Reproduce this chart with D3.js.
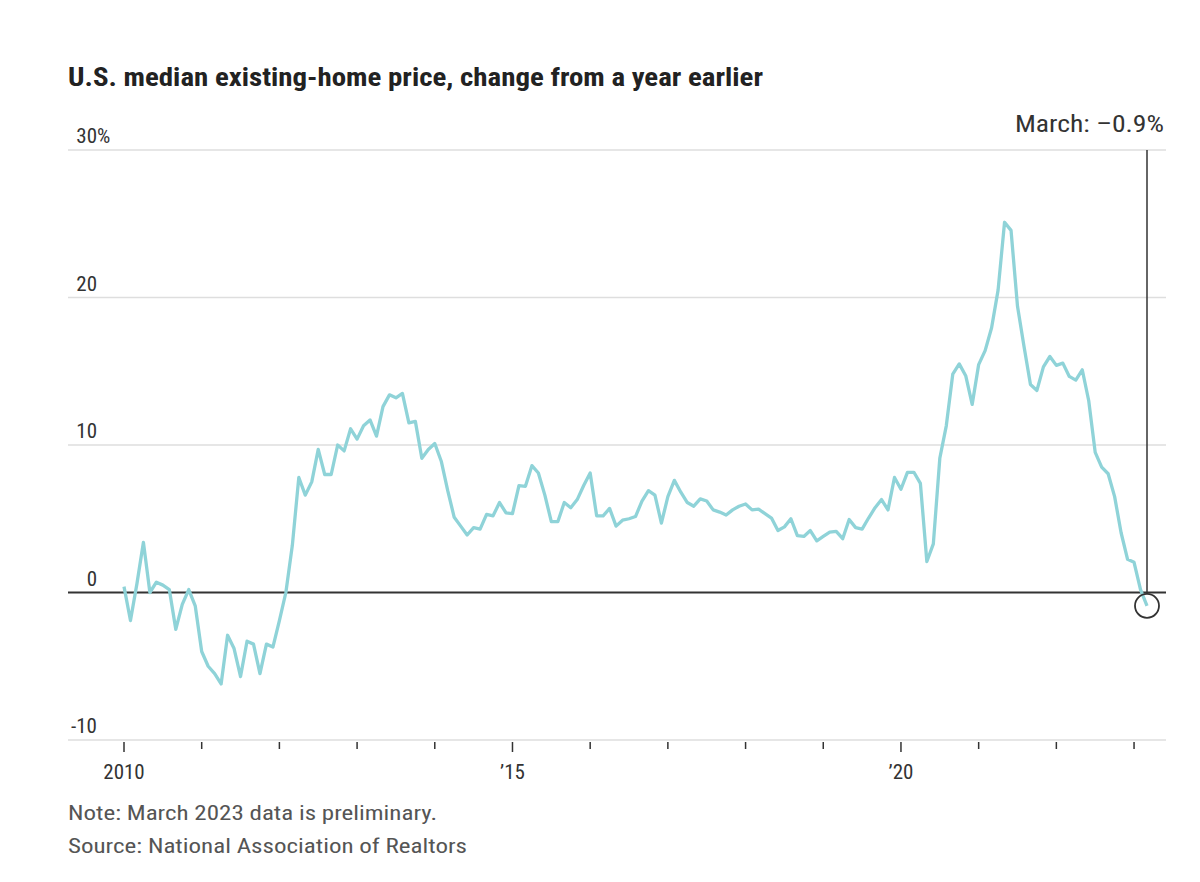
<!DOCTYPE html>
<html>
<head>
<meta charset="utf-8">
<script src="https://cdn.jsdelivr.net/npm/d3@7"></script>
<style>
  html, body { margin: 0; padding: 0; background: #fff; }
  svg { display: block; }
  text { font-family: "Liberation Sans Narrow", "Roboto Condensed", "DejaVu Sans Condensed", "Liberation Sans", sans-serif; }
</style>
</head>
<body>
<svg id="chart" width="1200" height="882"></svg>
<script>
// ---- Data ----
const startYear = 2010;
const years = [2010, 2011, 2012, 2013, 2014, 2015, 2016, 2017, 2018, 2019, 2020, 2021, 2022, 2023];
// Monthly year-over-year change (%) in U.S. median existing-home price, Jan 2010 - Mar 2023
const values2010 = [0.4, -1.9, 0.6, 3.4, 0.0, 0.7, 0.5, 0.2, -2.5, -0.8, 0.2, -0.9];
const values2011 = [-4.0, -5.0, -5.5, -6.2, -2.9, -3.8, -5.7, -3.3, -3.5, -5.5, -3.5, -3.7];
const values2012 = [-1.9, 0.0, 3.2, 7.8, 6.6, 7.5, 9.7, 8.0, 8.0, 10.0, 9.6, 11.1];
const values2013 = [10.4, 11.3, 11.7, 10.6, 12.6, 13.4, 13.2, 13.5, 11.5, 11.6, 9.1, 9.7];
const values2014 = [10.1, 8.9, 6.9, 5.1, 4.5, 3.9, 4.4, 4.3, 5.3, 5.2, 6.1, 5.4];
const values2015 = [5.35, 7.25, 7.2, 8.6, 8.1, 6.6, 4.8, 4.8, 6.1, 5.75, 6.3, 7.25];
const values2016 = [8.1, 5.2, 5.2, 5.7, 4.5, 4.9, 5.0, 5.15, 6.2, 6.9, 6.6, 4.7];
const values2017 = [6.5, 7.6, 6.8, 6.1, 5.85, 6.35, 6.2, 5.6, 5.45, 5.25, 5.6, 5.85];
const values2018 = [6.0, 5.6, 5.65, 5.35, 5.05, 4.2, 4.45, 5.0, 3.85, 3.8, 4.2, 3.5];
const values2019 = [3.8, 4.1, 4.15, 3.65, 4.95, 4.4, 4.3, 5.05, 5.75, 6.3, 5.6, 7.8];
const values2020 = [7.0, 8.15, 8.15, 7.4, 2.1, 3.3, 9.1, 11.3, 14.8, 15.5, 14.7, 12.75];
const values2021 = [15.45, 16.4, 17.95, 20.5, 25.1, 24.55, 19.4, 16.7, 14.1, 13.7, 15.3, 16.0];
const values2022 = [15.4, 15.55, 14.65, 14.4, 15.1, 13.0, 9.5, 8.5, 8.05, 6.5, 4.05, 2.25];
const values2023 = [2.05, 0.2, -0.9];

const yTicks = [-10, 0, 10, 20, 30];
const yTickLabels = ["-10", "0", "10", "20", "30"];
const xTickLabels = { 2010: "2010", 2015: "\u201915", 2020: "\u201920" };
const majorYears = [2010, 2015, 2020];

const title = "U.S. median existing-home price, change from a year earlier";
const annotation = "March: \u20130.9%";
const note = "Note: March 2023 data is preliminary.";
const source = "Source: National Association of Realtors";

const allValues = [].concat(values2010, values2011, values2012, values2013, values2014,
  values2015, values2016, values2017, values2018, values2019, values2020, values2021,
  values2022, values2023);
const data = allValues.map((v, i) => ({ t: startYear + i / 12, v: v }));

// ---- Layout ----
const svg = d3.select("#chart");
const gridLeft = 68, gridRight = 1166;
const x = d3.scaleLinear().domain([2010, 2023 + 2 / 12]).range([124, 1147]);
const y = d3.scaleLinear().domain([-10, 30]).range([740, 150]);

function fit(sel, target) {
  sel.each(function () {
    const w = this.getComputedTextLength();
    if (Math.abs(w - target) / target > 0.02) {
      d3.select(this).attr("textLength", target).attr("lengthAdjust", "spacingAndGlyphs");
    }
  });
}

// Title
svg.append("text")
  .attr("x", 68).attr("y", 86)
  .attr("font-size", 25).attr("font-weight", "bold").attr("fill", "#222")
  .text(title)
  .call(fit, 695);

// Gridlines
svg.append("g").selectAll("line")
  .data(yTicks.filter(d => d !== 0))
  .join("line")
  .attr("x1", gridLeft).attr("x2", gridRight)
  .attr("y1", d => y(d)).attr("y2", d => y(d))
  .attr("stroke", "#dedede").attr("stroke-width", 1.5);

// Y labels
const yl = svg.append("g");
yTicks.forEach((d, i) => {
  yl.append("text")
    .attr("x", 97).attr("y", y(d) - 7)
    .attr("text-anchor", "end")
    .attr("font-size", 21).attr("fill", "#333")
    .text(yTickLabels[i]);
  if (d === 30) {
    yl.append("text")
      .attr("x", 97).attr("y", y(d) - 7)
      .attr("font-size", 21).attr("fill", "#333")
      .text("%");
  }
});

// X axis ticks
const xAxis = svg.append("g");
xAxis.selectAll("line")
  .data(years)
  .join("line")
  .attr("x1", d => x(d)).attr("x2", d => x(d))
  .attr("y1", 742)
  .attr("y2", d => majorYears.includes(d) ? 752 : 749)
  .attr("stroke", "#333").attr("stroke-width", 1.5);
xAxis.selectAll("text")
  .data(majorYears)
  .join("text")
  .attr("x", d => x(d)).attr("y", 779)
  .attr("text-anchor", "middle")
  .attr("font-size", 21).attr("fill", "#333")
  .text(d => xTickLabels[d]);

// Zero line
svg.append("line")
  .attr("x1", gridLeft).attr("x2", gridRight)
  .attr("y1", y(0)).attr("y2", y(0))
  .attr("stroke", "#333").attr("stroke-width", 1.8);

// Data line
const line = d3.line().x(d => x(d.t)).y(d => y(d.v));
svg.append("path")
  .datum(data)
  .attr("d", line)
  .attr("fill", "none")
  .attr("stroke", "#8fd3d8")
  .attr("stroke-width", 3.3)
  .attr("stroke-linejoin", "round");

// Annotation
const last = data[data.length - 1];
const r = 12;
svg.append("line")
  .attr("x1", x(last.t)).attr("x2", x(last.t))
  .attr("y1", y(30)).attr("y2", y(last.v) - r)
  .attr("stroke", "#333").attr("stroke-width", 1.5);
svg.append("circle")
  .attr("cx", x(last.t)).attr("cy", y(last.v)).attr("r", r)
  .attr("fill", "none").attr("stroke", "#333").attr("stroke-width", 1.8);
svg.append("text")
  .attr("x", 1164).attr("y", 132)
  .attr("text-anchor", "end")
  .attr("font-size", 24).attr("fill", "#333")
  .text(annotation)
  .call(fit, 149);

// Footnotes
svg.append("text")
  .attr("x", 68).attr("y", 820)
  .attr("font-size", 20).attr("fill", "#555")
  .text(note)
  .call(fit, 369);
svg.append("text")
  .attr("x", 68).attr("y", 853)
  .attr("font-size", 20).attr("fill", "#555")
  .text(source)
  .call(fit, 399);
</script>
</body>
</html>
